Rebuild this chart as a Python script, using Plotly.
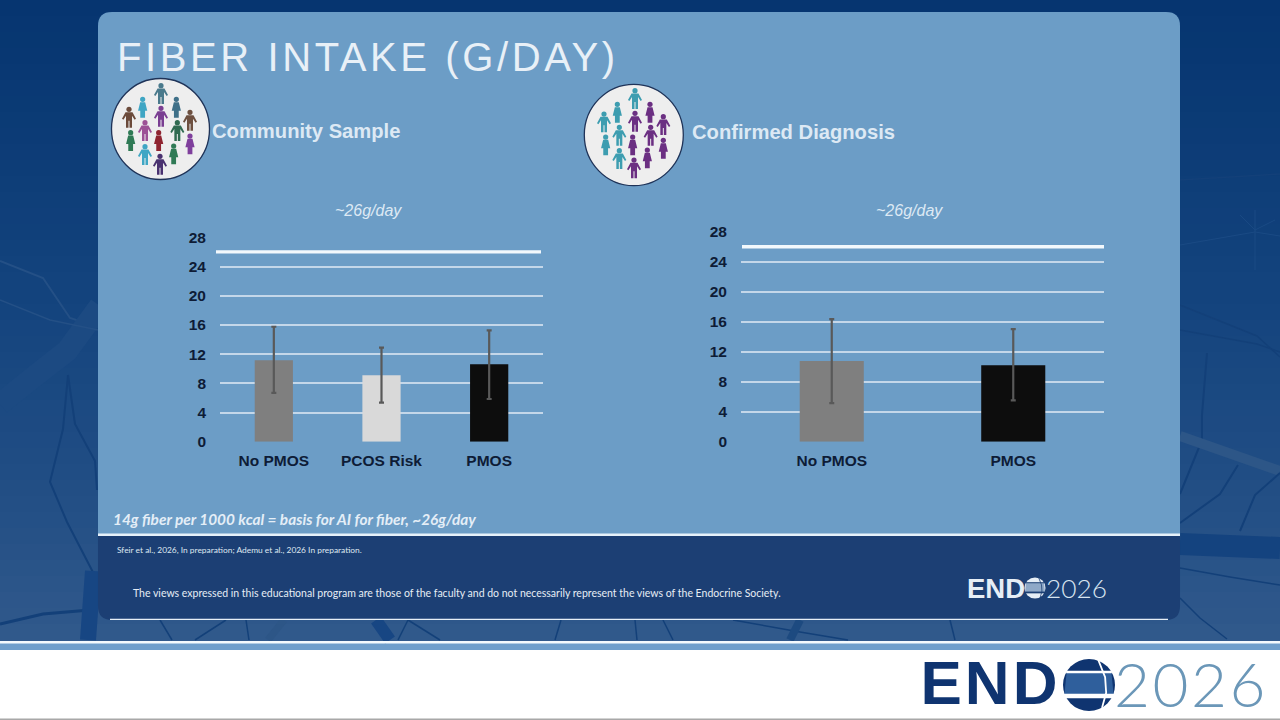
import plotly.graph_objects as go

# ---------- data ----------
TITLE = "FIBER INTAKE (G/DAY)"
LEFT_HEADING = "Community Sample"
RIGHT_HEADING = "Confirmed Diagnosis"
TARGET_LABEL = "~26g/day"
NOTE = "14g fiber per 1000 kcal = basis for AI for fiber, ~26g/day"
CITATION = "Sfeir et al., 2026, In preparation; Ademu et al., 2026 In preparation."
DISCLAIMER = "The views expressed in this educational program are those of the faculty and do not necessarily represent the views of the Endocrine Society."

TARGET = 26
TICKS = [0, 4, 8, 12, 16, 20, 24, 28]

community_cats = ["No PMOS", "PCOS Risk", "PMOS"]
community_vals = [11.15, 9.1, 10.6]
community_err_up = [4.6, 3.8, 4.65]
community_err_down = [4.45, 3.75, 4.75]
community_colors = ["#7f7f7f", "#d9d9d9", "#0d0d0d"]

confirmed_cats = ["No PMOS", "PMOS"]
confirmed_vals = [10.75, 10.2]
confirmed_err_up = [5.6, 4.8]
confirmed_err_down = [5.6, 4.7]
confirmed_colors = ["#7f7f7f", "#0d0d0d"]

W, H = 1280, 720
SANS = "Liberation Sans"
TEXT_DARK = "#0e1c36"
HEAD = "#dde9f4"

def X(x): return x / W
def Y(y): return 1 - y / H

def path(cmds):
    out = []
    for c in cmds:
        if isinstance(c, str):
            out.append(c)
        else:
            out.append(f"{X(c[0]):.5f},{Y(c[1]):.5f}")
    return " ".join(out)

shapes = []

def rect(x0, y0, x1, y1, fill, layer="below"):
    shapes.append(dict(type="rect", xref="paper", yref="paper", x0=X(x0), x1=X(x1),
                       y0=Y(y1), y1=Y(y0), fillcolor=fill, line_width=0, layer=layer))

def line(points, color, width, layer="below"):
    cmds = ["M", points[0]]
    for p in points[1:]:
        cmds += ["L", p]
    shapes.append(dict(type="path", xref="paper", yref="paper", path=path(cmds),
                       line=dict(color=color, width=width), layer=layer))

def fillpath(cmds, fill, layer="below", lc=None, lw=0):
    shapes.append(dict(type="path", xref="paper", yref="paper", path=path(cmds),
                       fillcolor=fill, line=dict(color=lc or fill, width=lw), layer=layer))

def circle(cx, cy, rx, ry, fill, lc=None, lw=0, layer="below"):
    shapes.append(dict(type="circle", xref="paper", yref="paper",
                       x0=X(cx - rx), x1=X(cx + rx), y0=Y(cy + ry), y1=Y(cy - ry),
                       fillcolor=fill, line=dict(color=lc or fill, width=lw), layer=layer))

# ---------- backdrop ----------
stops = [(0, (6, 53, 112)), (300, (20, 68, 126)), (500, (35, 79, 133)), (642, (50, 90, 140))]
def shade(y):
    for (a, ca), (b, cb) in zip(stops, stops[1:]):
        if a <= y <= b:
            t = (y - a) / (b - a)
            return "rgb(%d,%d,%d)" % tuple(round(p + (q - p) * t) for p, q in zip(ca, cb))
    return "rgb(50,90,140)"
for y in range(0, 642, 16):
    rect(0, y, W, 642, shade(y))

vein = "#134079"
veinlight = "#245086"
for pts, w, col in [
    ([(0, 261), (43, 278), (70, 318), (98, 327)], 2, veinlight),
    ([(0, 404), (40, 372), (67, 351), (100, 306)], 22, "#1c4a82"),
    ([(0, 300), (50, 320), (98, 330)], 1.5, veinlight),
    ([(68, 375), (63, 429), (50, 482), (67, 522), (97, 580)], 2, vein),
    ([(68, 375), (75, 424), (95, 461), (97, 490)], 2, vein),
    ([(0, 624), (43, 614), (90, 610)], 3, vein),
    ([(93, 571), (88, 640)], 16, "#174683"),
    ([(1180, 180), (1280, 174)], 1.5, vein),
    ([(1240, 215), (1255, 230), (1275, 220)], 1, "#1a4a84"),
    ([(1255, 210), (1255, 270)], 1, "#1a4a84"),
    ([(1180, 245), (1255, 232), (1280, 236)], 1, "#1a4a84"),
    ([(1180, 305), (1257, 336), (1280, 357)], 1.5, vein),
    ([(1180, 330), (1257, 344), (1280, 352)], 1.5, vein),
    ([(1207, 353), (1202, 415), (1202, 440), (1180, 494)], 2, vein),
    ([(1180, 436), (1280, 471)], 10, "#2d5687"),
    ([(1238, 465), (1220, 494), (1180, 523)], 2, vein),
    ([(1280, 473), (1255, 495), (1240, 531)], 2, vein),
    ([(1180, 544), (1280, 548)], 22, "#14437f"),
    ([(1180, 568), (1230, 577), (1280, 585)], 1.5, vein),
    ([(1180, 598), (1200, 618), (1227, 639)], 1.5, vein),
    ([(160, 620), (172, 640)], 1.5, vein),
    ([(226, 620), (195, 640)], 1.5, vein),
    ([(246, 620), (249, 640)], 1.5, vein),
    ([(284, 620), (268, 640)], 7, "#2d5687"),
    ([(376, 620), (390, 640)], 12, "#174683"),
    ([(408, 620), (440, 640)], 1.5, vein),
    ([(408, 620), (398, 640)], 1.5, vein),
    ([(561, 620), (555, 640)], 1.5, vein),
    ([(635, 620), (637, 640)], 1.5, vein),
    ([(663, 620), (673, 640)], 1.5, vein),
    ([(733, 620), (800, 632), (848, 640)], 1.5, vein),
    ([(800, 620), (790, 640)], 8, "#1d4a80"),
    ([(950, 620), (955, 640)], 1.5, vein),
]:
    line(pts, col, w)

# ---------- panels ----------
L, R, T, B = 98, 1180, 12, 620
PANEL = "#6c9dc6"
DARK = "#1c3f74"
r = 14
fillpath(["M", (L + r, T), "L", (R - r, T), "Q", (R, T), (R, T + r), "L", (R, 536), "L", (L, 536),
          "L", (L, T + r), "Q", (L, T), (L + r, T), "Z"], PANEL)
fillpath(["M", (L, 535), "L", (R, 535), "L", (R, B - r), "Q", (R, B), (R - r, B), "L", (L + r, B),
          "Q", (L, B), (L, B - r), "Z"], DARK)
rect(L, 533.6, R, 536, "#e6f1fa")
rect(110, 618.8, 1168, 620, "#e6eef6")

# bottom strip
rect(0, 641, W, 643.5, "#f4fafd")
rect(0, 643.5, W, 650, "#6f9fcc")
rect(0, 650, W, 718.5, "#ffffff")
rect(0, 718.5, W, 720, "#a8a8a8")

# ---------- people icons ----------
MALE = [(-3.5, -5.5), (3.5, -5.5), (7, 1), (5.6, 2), (3, -2), (3, 10), (.5, 10), (.5, 3), (-.5, 3),
        (-.5, 10), (-3, 10), (-3, -2), (-5.6, 2), (-7, 1)]
FEMALE = [(-2.5, -5.5), (2.5, -5.5), (4.6, 3), (2.4, 3), (2.4, 10), (-2.4, 10), (-2.4, 3), (-4.6, 3)]

def person(x, y, kind, color):
    circle(x, y - 8.3, 2.6, 2.6, color)
    shape = MALE if kind == "m" else FEMALE
    cmds = ["M", (x + shape[0][0], y + shape[0][1])]
    for dx, dy in shape[1:]:
        cmds += ["L", (x + dx, y + dy)]
    cmds.append("Z")
    fillpath(cmds, color)

circle(160.5, 129, 49, 50.5, "#eeeeee", "#1f3358", 1.3)
people1 = [(183, 72, "m", "#4a7a8c"), (128, 113, "f", "#3fa6c4"), (229, 113, "f", "#3f7088"),
           (87, 143, "m", "#6b4a3a"), (183, 140, "m", "#7a3f92"), (270, 152, "m", "#6e5040"),
           (135, 183, "m", "#9c5296"), (232, 183, "m", "#2f6a50"), (92, 213, "f", "#2f7a55"),
           (176, 213, "f", "#8f2430"), (270, 223, "f", "#7f3f9c"), (135, 255, "m", "#3fa6c4"),
           (221, 253, "f", "#2f7a55"), (180, 284, "m", "#4a3270")]
for zx, zy, k, c in people1:
    person(100 + zx / 3, 70 + zy / 3, k, c)

circle(633.8, 135, 49.5, 50.7, "#eeeeee", "#1f3358", 1.3)
TEAL, PURP = "#3d9db0", "#6b2f82"
people2 = [(180, 72, "m", TEAL), (127, 113, "f", TEAL), (225, 113, "f", PURP), (87, 142, "m", TEAL),
           (180, 140, "m", PURP), (265, 150, "m", PURP), (133, 182, "m", TEAL), (227, 182, "m", PURP),
           (92, 211, "f", TEAL), (173, 211, "f", PURP), (265, 221, "f", PURP), (133, 252, "m", TEAL),
           (217, 250, "f", PURP), (177, 280, "m", PURP)]
for zx, zy, k, c in people2:
    person(575 + zx / 3, 75 + zy / 3, k, c)

# ---------- logo globes ----------
def globe(cx, cy, rad, base, mid, stripe):
    circle(cx, cy, rad, rad, base)
    t = rad * 0.5
    fillpath(["M", (cx - rad * .86, cy - t), "L", (cx + rad * .86, cy - t), "L", (cx + rad * .95, cy + t * .8),
              "L", (cx - rad * .95, cy + t * .8), "Z"], mid)
    line([(cx - rad * .88, cy - t), (cx + rad * .88, cy - t)], stripe, max(1, rad * .09))
    line([(cx - rad * .97, cy + t * .85), (cx + rad * .97, cy + t * .85)], stripe, max(1.2, rad * .17))
    line([(cx + rad * .35, cy - rad * .98), (cx + rad * .62, cy - rad * .3), (cx + rad * .66, cy + rad * .3),
          (cx + rad * .5, cy + rad * .88)], stripe, max(.8, rad * .07))

globe(1089, 685, 26, "#0f3470", "#2f5f9c", "#ffffff")
globe(1035, 588, 10.5, "#e6eef6", "#8fa9c8", DARK)

# ---------- annotations ----------
ann = []
def text(x, y, s, size, color, family=SANS, bold=False, italic=False, anchor="left", weight=None):
    ann.append(dict(xref="paper", yref="paper", x=X(x), y=Y(y), text=s, showarrow=False,
                    xanchor=anchor, yanchor="middle", borderpad=0, borderwidth=0,
                    font=dict(family=family, size=size, color=color,
                              weight=weight if weight else ("bold" if bold else "normal"),
                              style="italic" if italic else "normal")))

TITLE_SPACING = 3.6
text(117 + TITLE_SPACING * 10, 56.5, TITLE, 40, "#e8f0f7")
text(212, 131, LEFT_HEADING, 20.2, HEAD, bold=True)
text(692, 132, RIGHT_HEADING, 20.2, HEAD, bold=True)
text(368, 210, TARGET_LABEL, 16, HEAD, italic=True, anchor="center")
text(909, 210, TARGET_LABEL, 16, HEAD, italic=True, anchor="center")
text(113, 518.5, NOTE, 15.4, "#e4eef7", family="Lato", bold=True, italic=True)
text(117, 549.5, CITATION, 8.4, "#dfe7f0", family="Lato")
text(133, 593, DISCLAIMER, 10.5, "#e6edf5", family="Lato")

text(967, 588, "END", 27.5, "#e6eef6", bold=True)
text(1045.5, 588, "2026", 26.3, "#d8e4f0", family="Lato", weight=300)
text(920 + 4.5, 682.5, "END", 62, "#0f3470", bold=True)
text(1114 + 5, 682.5, "2026", 62, "#6b97b8", family="Lato", weight=300)

# ---------- charts ----------
fig = go.Figure()
fig.add_trace(go.Bar(
    x=community_cats, y=community_vals, marker=dict(color=community_colors, line_width=0),
    width=0.355, xaxis="x", yaxis="y",
    error_y=dict(type="data", symmetric=False, array=community_err_up, arrayminus=community_err_down,
                 color="#595959", thickness=2.2, width=2.5),
    showlegend=False, hoverinfo="skip"))
fig.add_trace(go.Bar(
    x=confirmed_cats, y=confirmed_vals, marker=dict(color=confirmed_colors, line_width=0),
    width=0.353, xaxis="x2", yaxis="y2",
    error_y=dict(type="data", symmetric=False, array=confirmed_err_up, arrayminus=confirmed_err_down,
                 color="#595959", thickness=2.2, width=2.5),
    showlegend=False, hoverinfo="skip"))

shapes.append(dict(type="line", xref="paper", yref="y", x0=X(216), x1=X(541), y0=TARGET, y1=TARGET,
                   line=dict(color="#f2f8fc", width=3.4), layer="above"))
shapes.append(dict(type="line", xref="paper", yref="y2", x0=X(742), x1=X(1104), y0=TARGET, y1=TARGET,
                   line=dict(color="#f2f8fc", width=3.4), layer="above"))

tickfont = dict(family=SANS, size=15.5, color=TEXT_DARK, weight="bold")
def yaxis(top, anchor):
    return dict(domain=[Y(441.7), Y(top)], range=[0, 28], tickvals=TICKS, showgrid=True,
                gridcolor="#c4d7e9", gridwidth=1.5, zeroline=False, showline=False, ticks="",
                tickfont=tickfont, anchor=anchor, ticklabelstandoff=13, fixedrange=True, automargin=False)
def xaxis(x0, x1, anchor):
    return dict(domain=[X(x0), X(x1)], type="category", showgrid=False, zeroline=False, showline=False,
                ticks="", tickfont=tickfont, anchor=anchor, ticklabelstandoff=8, fixedrange=True, automargin=False)

fig.update_layout(
    width=W, height=H, autosize=False, margin=dict(l=0, r=0, t=0, b=0, pad=0),
    paper_bgcolor="#ffffff", plot_bgcolor="rgba(0,0,0,0)",
    xaxis=xaxis(220, 543, "y"), yaxis=yaxis(237.3, "x"),
    xaxis2=xaxis(741, 1104, "y2"), yaxis2=yaxis(231.7, "x2"),
    shapes=shapes, annotations=ann, showlegend=False, hovermode=False,
)

POST = """
document.body.style.margin='0';
var big=document.querySelectorAll('.annotation-text');
big.forEach(function(t){
  var s=t.textContent, fs=parseFloat(t.style.fontSize);
  if(s.indexOf('FIBER')===0){t.style.letterSpacing='%spx';}
  if(s==='END' && fs>40){t.style.letterSpacing='3px';}
  if(s==='2026' && fs>40){t.style.letterSpacing='2.5px';}
});
""" % TITLE_SPACING
fig.write_html("out.html", config=dict(displayModeBar=False), post_script=POST)
